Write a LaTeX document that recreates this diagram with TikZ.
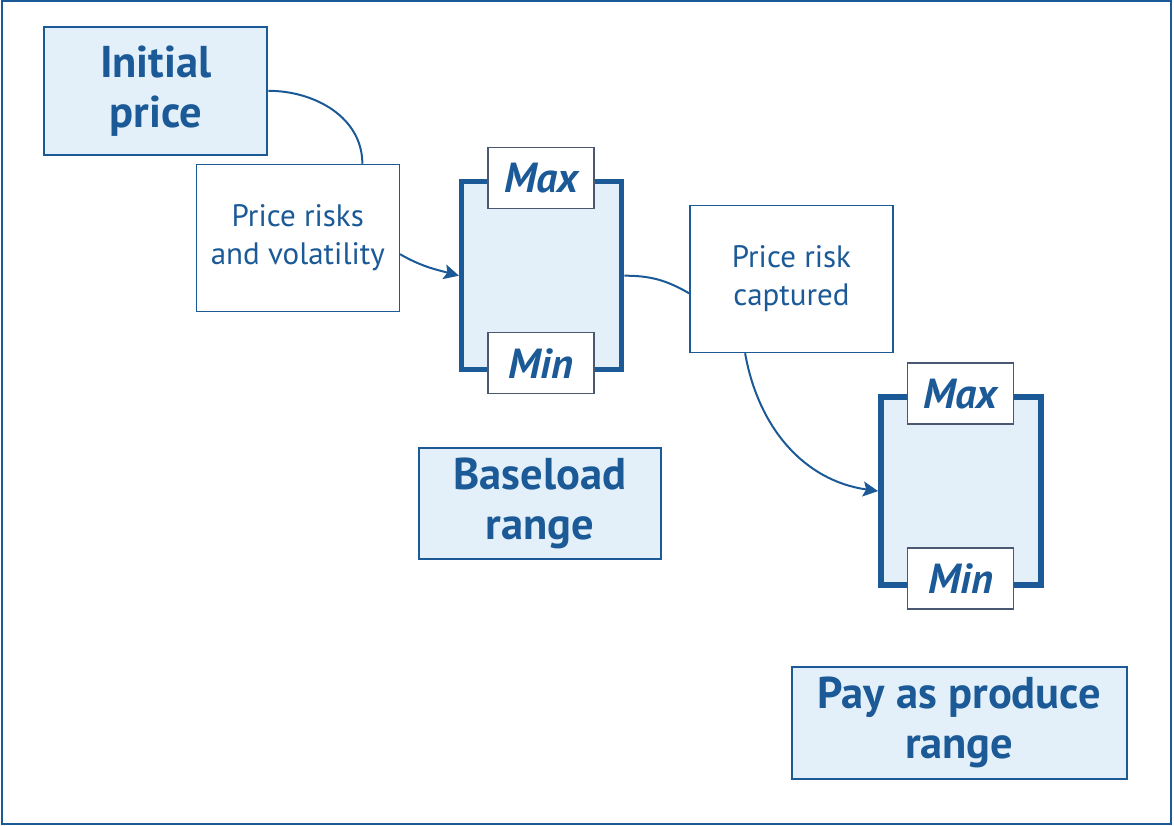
\documentclass[tikz,border=0pt]{standalone}
\usepackage{fontspec}
\setmainfont{PT Sans}
\usetikzlibrary{arrows.meta}

\definecolor{darkblue}{HTML}{1B5A97}
\definecolor{paleblue}{HTML}{E4F0F9}
\definecolor{slate}{HTML}{4A5872}

\begin{document}
\begin{tikzpicture}[x=10pt,y=10pt]
        \useasboundingbox (0,0) rectangle (117.4,-82.6);
        \draw[darkblue,line width=2pt] (0.2,-0.15) rectangle (117.05,-82.35);

        % the two price ranges
        \begin{scope}[every node/.style={rectangle,draw=darkblue,line width=5.5pt,fill=paleblue,
                    minimum width=160pt,minimum height=188pt,inner sep=0pt}]
            \node (base) at (54.17,-27.57) {};
            \node (pap) at (96.08,-49.11) {};
        \end{scope}

        % bounds of the ranges
        \begin{scope}[every node/.style={rectangle,draw=slate,line width=1.5pt,fill=white,text=darkblue,
                    minimum width=106pt,minimum height=61pt,inner sep=0pt,
                    font=\fontsize{42}{46}\selectfont\bfseries\itshape}]
            \node (max1) at (54.12,-17.8) {Max};
            \node (min1) at (54.12,-36.32) {Min};
            \node (max2) at (96.05,-39.37) {Max};
            \node (min2) at (96.05,-57.87) {Min};
        \end{scope}

        % titles
        \begin{scope}[every node/.style={rectangle,draw=darkblue,line width=2pt,fill=paleblue,text=darkblue,
                    align=center,inner sep=0pt,font=\fontsize{44.5}{50}\selectfont\bfseries}]
            \node[minimum width=223pt,minimum height=128pt] (init) at (15.58,-9.08) {Initial\\price};
            \node[minimum width=242pt,minimum height=111pt] (baseload) at (54.0,-50.35) {Baseload\\range};
            \node[minimum width=335pt,minimum height=112pt] (payrange) at (95.92,-72.28) {Pay as produce\\range};
        \end{scope}

        % steps between them
        \begin{scope}[every node/.style={rectangle,draw=darkblue,line width=1.5pt,fill=white,text=darkblue,
                    align=center,inner sep=0pt,minimum width=203pt,minimum height=147pt,
                    font=\fontsize{31}{38}\selectfont}]
            \node (risks) at (29.78,-23.8) {Price risks\\and volatility};
            \node (captured) at (79.15,-27.9) {Price risk\\captured};
        \end{scope}

        \begin{scope}[every edge/.style={draw=darkblue,line width=2pt}]
            \path [-] (init.east) edge[out=0,in=90] (risks.49);
            \path [-{Stealth[length=15pt,width=15pt,inset=3pt]}] (risks.-9) edge[out=-30,in=165] (base.west);
            \path [-] (base.east) edge[out=0,in=150] (captured.188);
            \path [-{Stealth[length=15pt,width=15pt,inset=3pt]}] (captured.238) edge[out=-80,in=172] (pap.west);
        \end{scope}
    \end{tikzpicture}
\end{document}
